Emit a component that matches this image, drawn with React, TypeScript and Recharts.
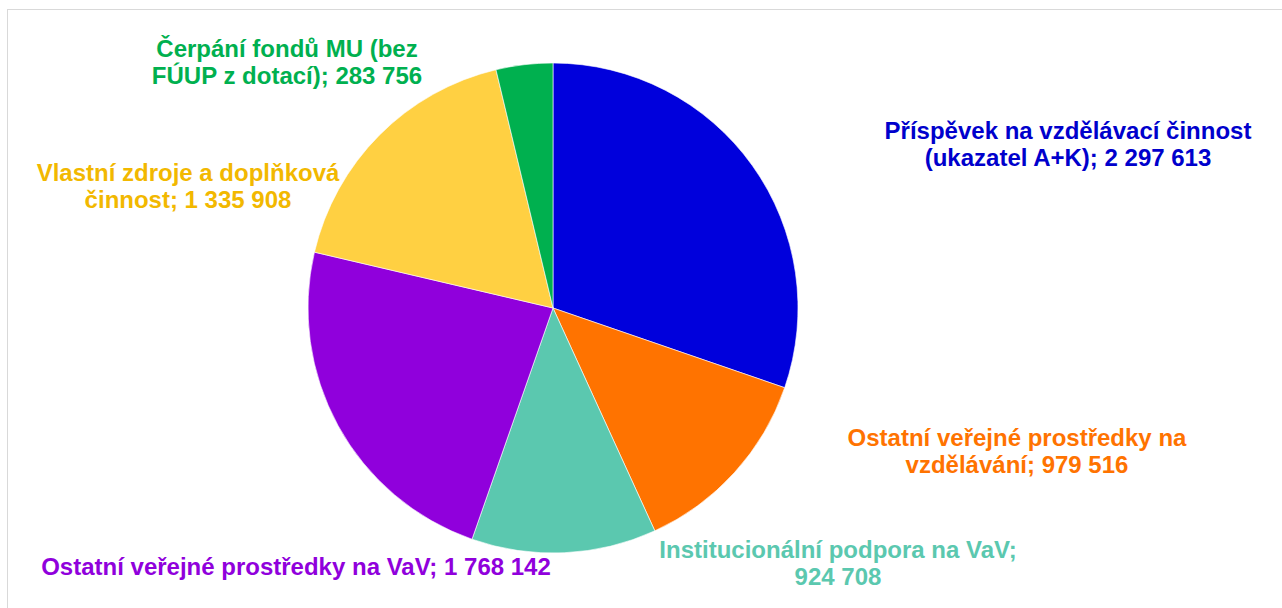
import { PieChart, Pie, Cell } from 'recharts'

const names = [
  'Příspěvek na vzdělávací činnost (ukazatel A+K)',
  'Ostatní veřejné prostředky na vzdělávání',
  'Institucionální podpora na VaV',
  'Ostatní veřejné prostředky na VaV',
  'Vlastní zdroje a doplňková činnost',
  'Čerpání fondů MU (bez FÚUP z dotací)'
]
const values = [2297613, 979516, 924708, 1768142, 1335908, 283756]
const labelLines = [
  ['Příspěvek na vzdělávací činnost', '(ukazatel A+K); 2 297 613'],
  ['Ostatní veřejné prostředky na', 'vzdělávání; 979 516'],
  ['Institucionální podpora na VaV;', '924 708'],
  ['Ostatní veřejné prostředky na VaV; 1 768 142'],
  ['Vlastní zdroje a doplňková', 'činnost; 1 335 908'],
  ['Čerpání fondů MU (bez', 'FÚUP z dotací); 283 756']
]

const sliceColors = ['#0000DC', '#FF7300', '#5BC8AF', '#9000DC', '#FFD042', '#00B04F']
const textColors = ['#0000CC', '#FF7300', '#5BC8AF', '#9000DC', '#F2B800', '#00B04F']
// label block centres (chart coords)
const labelPos = [
  [1060, 133],
  [1009, 440],
  [830, 552],
  [288, 556],
  [180, 175],
  [279, 51]
]

const data = names.map((name, i) => ({ name, value: values[i] }))

const LINE_H = 27

function renderLabel(props: any) {
  const i = props.index
  const lines = labelLines[i]
  const [x, y] = labelPos[i]
  const top = y - ((lines.length - 1) * LINE_H) / 2
  return (
    <text
      key={`lbl-${i}`}
      x={x}
      y={top}
      fill={textColors[i]}
      textAnchor="middle"
      dominantBaseline="central"
      style={{ fontFamily: "'Liberation Sans', Arial, sans-serif", fontWeight: 700, fontSize: 24 }}
    >
      {lines.map((l, k) => (
        <tspan key={k} x={x} dy={k === 0 ? 0 : LINE_H}>
          {l}
        </tspan>
      ))}
    </text>
  )
}

export default function App() {
  return (
    <div
      style={{
        position: 'absolute',
        left: 7,
        top: 9,
        width: 1290,
        height: 610,
        border: '1px solid #d9d9d9',
        background: '#fff'
      }}
    >
      <PieChart width={1280} height={600}>
        <Pie
          data={data}
          dataKey="value"
          nameKey="name"
          cx={540}
          cy={293}
          outerRadius={245}
          startAngle={90}
          endAngle={-270}
          stroke="#ffffff"
          strokeWidth={0.6}
          labelLine={false}
          label={renderLabel}
          isAnimationActive={false}
        >
          {data.map((entry, index) => (
            <Cell key={`cell-${index}`} fill={sliceColors[index]} />
          ))}
        </Pie>
      </PieChart>
    </div>
  )
}
